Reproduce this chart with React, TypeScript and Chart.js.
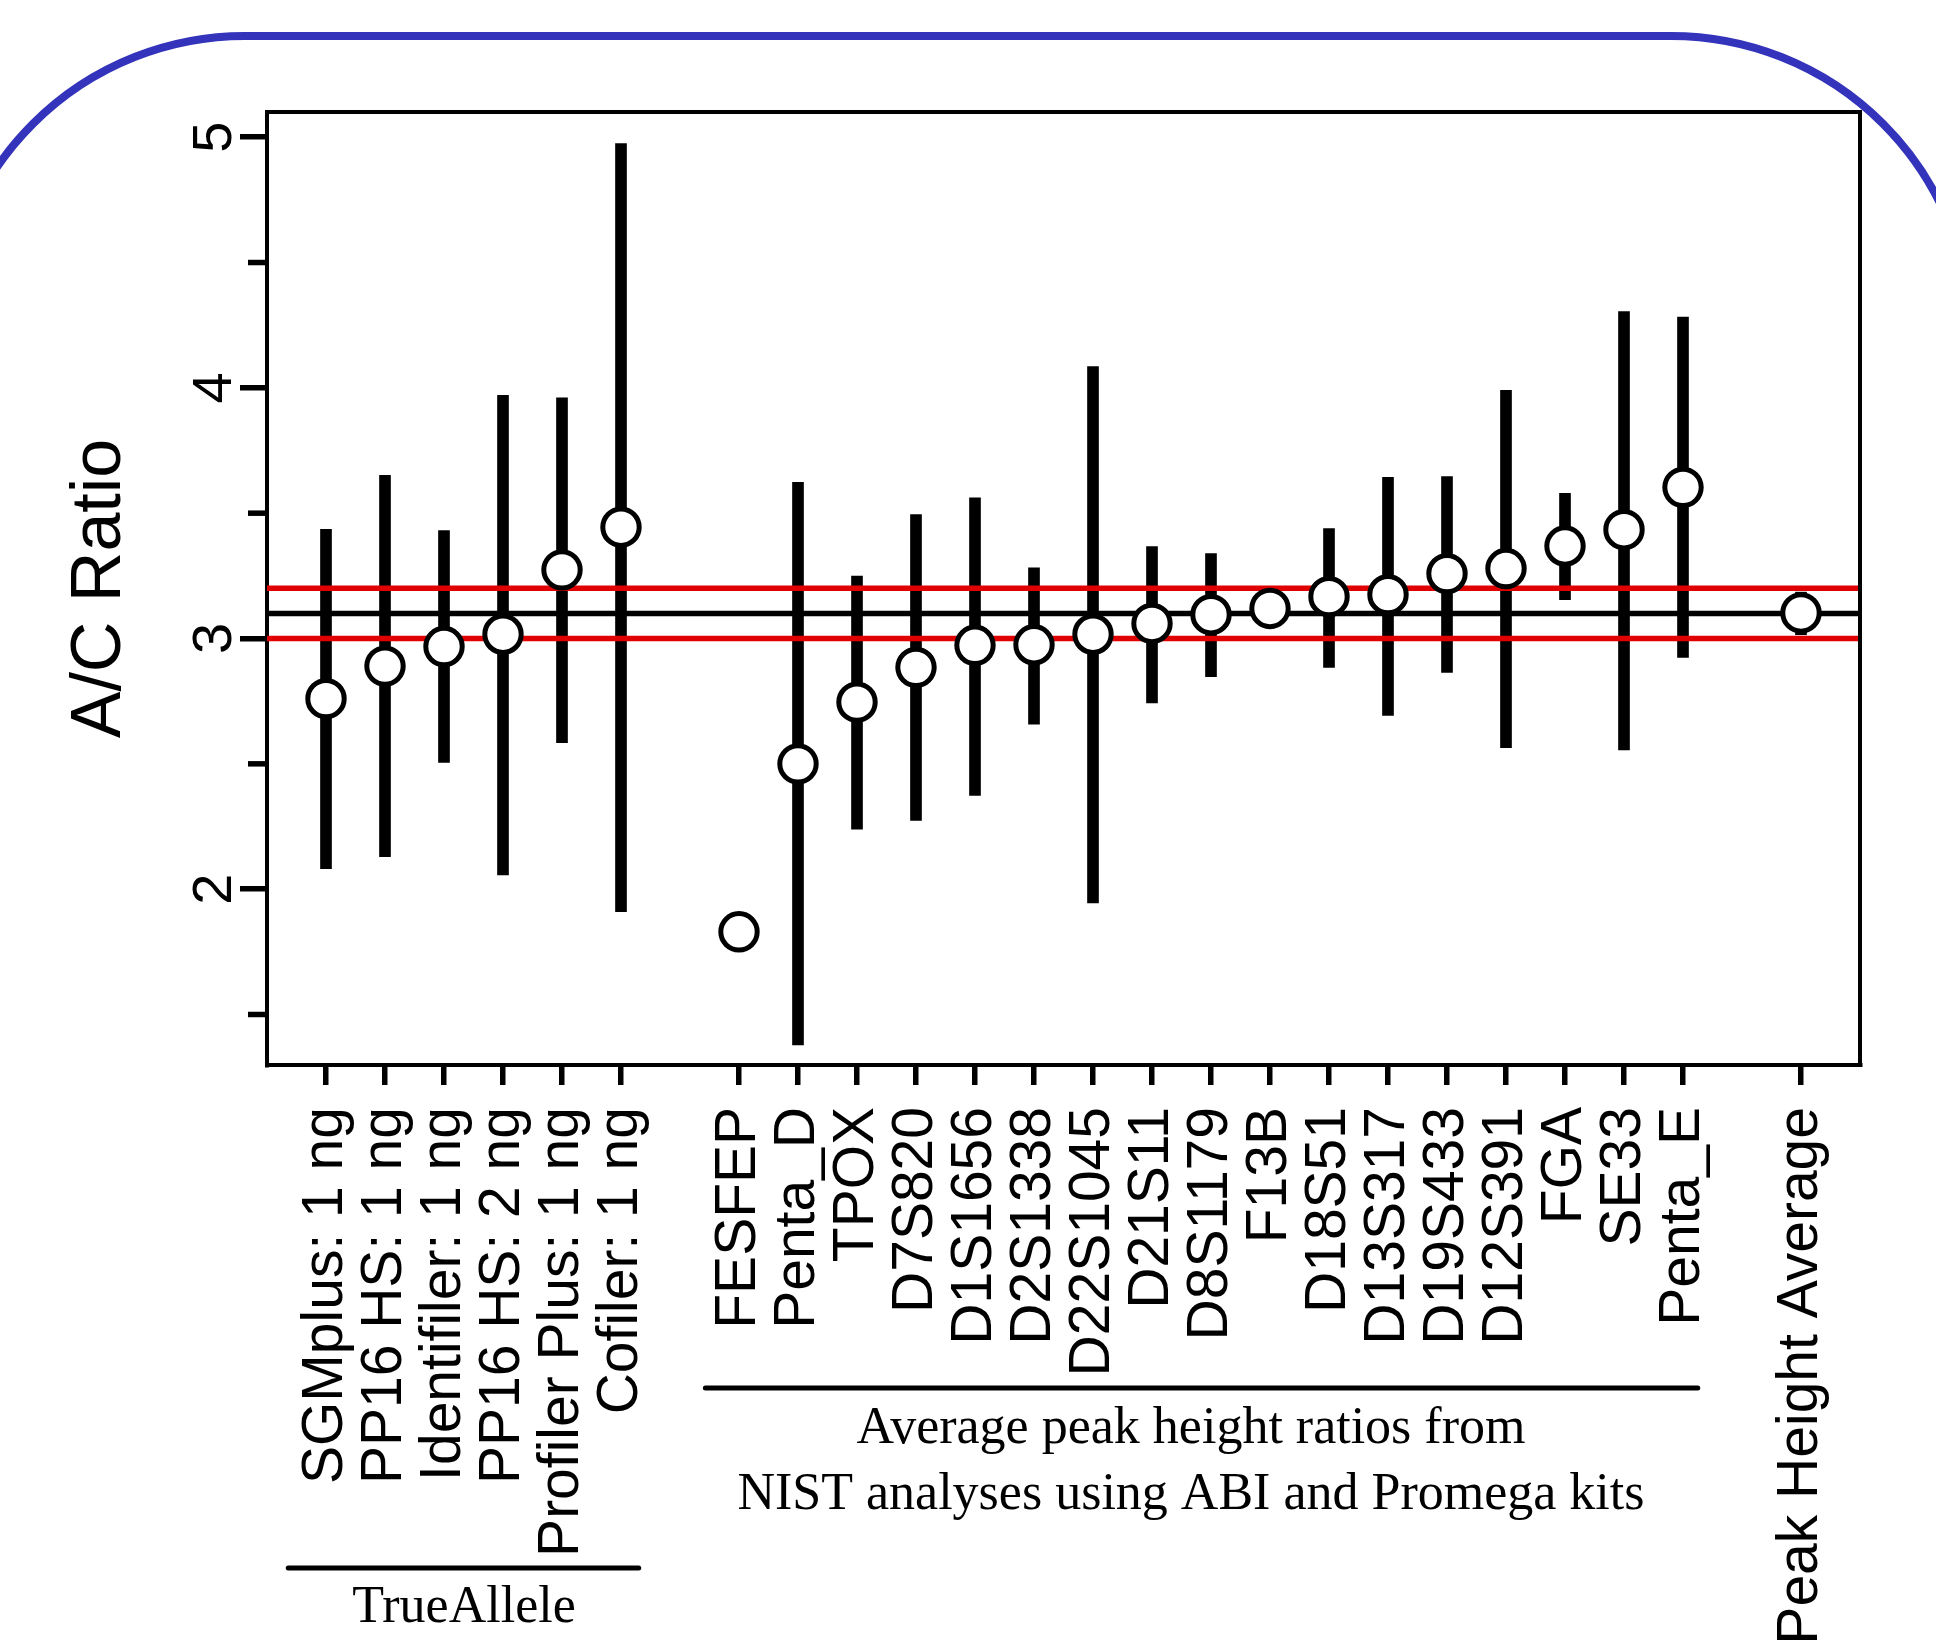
import { useEffect, useRef } from 'react';
import { Chart, registerables } from 'chart.js';

Chart.register(...registerables);

// ---- data ----
const trueAlleleKits = ['SGMplus: 1 ng', 'PP16 HS: 1 ng', 'Identifiler: 1 ng', 'PP16 HS: 2 ng', 'Profiler Plus: 1 ng', 'Cofiler: 1 ng'];
const nistLoci = ['FESFEP', 'Penta_D', 'TPOX', 'D7S820', 'D1S1656', 'D2S1338', 'D22S1045', 'D21S11', 'D8S1179', 'F13B', 'D18S51', 'D13S317', 'D19S433', 'D12S391', 'FGA', 'SE33', 'Penta_E'];
const averageLabels = ['Peak Height Average'];
const categories = [...trueAlleleKits, ...nistLoci, ...averageLabels];
const xPositions = [1, 2, 3, 4, 5, 6, 8, 9, 10, 11, 12, 13, 14, 15, 16, 17, 18, 19, 20, 21, 22, 23, 24, 26];

const ratioMean = [2.76, 2.89, 2.968, 3.017, 3.274, 3.444, 1.83, 2.5, 2.746, 2.885, 2.973, 2.975, 3.017, 3.06, 3.095, 3.12, 3.167, 3.175, 3.259, 3.279, 3.369, 3.434, 3.603, 3.102];
const ratioLow: (number | null)[] = [2.082, 2.13, 2.506, 2.057, 2.584, 1.91, null, 1.379, 2.239, 2.274, 2.374, 2.658, 1.945, 2.743, 2.848, null, 2.885, 2.693, 2.865, 2.564, 3.155, 2.556, 2.925, 3.015];
const ratioHigh: (number | null)[] = [3.436, 3.651, 3.431, 3.97, 3.96, 4.975, null, 3.623, 3.249, 3.494, 3.561, 3.282, 4.085, 3.367, 3.339, null, 3.439, 3.643, 3.646, 3.99, 3.579, 4.304, 4.282, 3.185];

const referenceValues = [3.0, 3.1, 3.2];
const referenceColors = ['#e00000', '#000000', '#e00000'];

const yTickValues = [2, 3, 4, 5];
const yMinorTickValues = [1.5, 2.5, 3.5, 4.5];
const X_MIN = 0;
const X_MAX = 27;
const Y_MIN = 1.2985;
const Y_MAX = 5.1005;

// group annotations (in x-scale units)
const groupTexts = [['TrueAllele'], ['Average peak height ratios from', 'NIST analyses using ABI and Promega kits']];
const groupLineStart = [0.36, 7.43];
const groupLineEnd = [6.3, 24.25];
const groupTextCenter = [3.34, 15.66];

const SANS = 'Liberation Sans, Arial, Helvetica, sans-serif';
const SERIF = 'Liberation Serif, Times New Roman, serif';

const decorPlugin = {
  id: 'decor',
  beforeDraw(chart: any) {
    const ctx = chart.ctx;
    ctx.save();
    ctx.fillStyle = '#ffffff';
    ctx.fillRect(0, 0, chart.width, chart.height);
    ctx.restore();
  },
  afterDraw(chart: any) {
    const { ctx, chartArea: ca, scales } = chart;
    const xs = scales.x;
    const ys = scales.y;
    ctx.save();
    // top and right frame
    ctx.strokeStyle = '#000';
    ctx.lineWidth = 4;
    ctx.lineCap = 'square';
    ctx.beginPath();
    ctx.moveTo(ca.left, ca.top);
    ctx.lineTo(ca.right, ca.top);
    ctx.lineTo(ca.right, ca.bottom);
    ctx.stroke();
    // minor ticks
    ctx.lineCap = 'butt';
    ctx.lineWidth = 5.5;
    for (const v of yMinorTickValues) {
      const py = ys.getPixelForValue(v);
      ctx.beginPath();
      ctx.moveTo(ca.left - 19, py);
      ctx.lineTo(ca.left - 2, py);
      ctx.stroke();
    }
    // group annotations
    const lineYs = [ca.bottom + 503, ca.bottom + 323];
    const textBaselines = [[ca.bottom + 557], [ca.bottom + 378, ca.bottom + 444]];
    ctx.fillStyle = '#000';
    ctx.textAlign = 'center';
    ctx.textBaseline = 'alphabetic';
    ctx.font = `52px ${SERIF}`;
    ctx.lineWidth = 5;
    ctx.lineCap = 'round';
    for (let g = 0; g < groupTexts.length; g++) {
      ctx.beginPath();
      ctx.moveTo(xs.getPixelForValue(groupLineStart[g]), lineYs[g]);
      ctx.lineTo(xs.getPixelForValue(groupLineEnd[g]), lineYs[g]);
      ctx.stroke();
      const cx = xs.getPixelForValue(groupTextCenter[g]);
      groupTexts[g].forEach((t, i) => ctx.fillText(t, cx, textBaselines[g][i]));
    }
    // blue rounded frame
    const L = -55, T = 36, R = 1971, B = 2200, r = 300;
    ctx.strokeStyle = '#3333bb';
    ctx.lineWidth = 8;
    ctx.beginPath();
    ctx.moveTo(L + r, T);
    ctx.lineTo(R - r, T);
    ctx.arcTo(R, T, R, T + r, r);
    ctx.lineTo(R, B - r);
    ctx.arcTo(R, B, R - r, B, r);
    ctx.lineTo(L + r, B);
    ctx.arcTo(L, B, L, B - r, r);
    ctx.lineTo(L, T + r);
    ctx.arcTo(L, T, L + r, T, r);
    ctx.closePath();
    ctx.stroke();
    ctx.restore();
  },
};

export default function App() {
  const canvasRef = useRef<HTMLCanvasElement | null>(null);

  useEffect(() => {
    document.body.style.margin = '0';
    document.body.style.overflow = 'hidden';
    const canvas = canvasRef.current;
    if (!canvas) return;

    const points = xPositions.map((x, i) => ({ x, y: ratioMean[i] }));
    const bars: any[] = [];
    xPositions.forEach((x, i) => {
      const lo = ratioLow[i];
      const hi = ratioHigh[i];
      if (lo != null && hi != null) bars.push({ x, y: [lo, hi] });
    });

    const lineSets = referenceValues.map((v, i) => ({
      type: 'line' as const,
      data: [{ x: X_MIN, y: v }, { x: X_MAX, y: v }],
      borderColor: referenceColors[i],
      borderWidth: 5.5,
      borderCapStyle: 'butt' as const,
      pointRadius: 0,
      pointHoverRadius: 0,
      fill: false,
      order: 1,
    }));

    const chart = new Chart(canvas, {
      type: 'scatter',
      data: {
        datasets: [
          {
            type: 'scatter',
            data: points,
            pointRadius: 18.2,
            pointHoverRadius: 18.2,
            pointBorderWidth: 5,
            pointHoverBorderWidth: 5,
            pointBackgroundColor: '#ffffff',
            pointBorderColor: '#000000',
            order: 0,
          } as any,
          ...lineSets,
          {
            type: 'bar',
            data: bars,
            backgroundColor: '#000000',
            borderWidth: 0,
            barThickness: 11,
            order: 3,
          } as any,
        ],
      },
      options: {
        responsive: false,
        animation: false,
        devicePixelRatio: 1,
        events: [],
        layout: { padding: { left: 0, top: 112, right: 76, bottom: 0 } },
        plugins: { legend: { display: false }, tooltip: { enabled: false } },
        scales: {
          x: {
            type: 'linear',
            min: X_MIN,
            max: X_MAX,
            offset: false,
            afterBuildTicks: (s: any) => {
              s.ticks = xPositions.map((v) => ({ value: v }));
            },
            afterFit: (s: any) => {
              s.height = 584;
            },
            ticks: {
              autoSkip: false,
              minRotation: 90,
              maxRotation: 90,
              padding: 22,
              color: '#000',
              font: { family: SANS, size: 57 },
              callback: (v: any) => {
                const idx = xPositions.indexOf(Number(v));
                return idx >= 0 ? categories[idx] : '';
              },
            },
            grid: {
              offset: false,
              drawOnChartArea: false,
              drawTicks: true,
              tickLength: 20,
              tickWidth: 5.5,
              tickColor: '#000',
              lineWidth: 5.5,
              color: '#000',
            },
            border: { display: true, width: 4, color: '#000' },
          },
          y: {
            type: 'linear',
            min: Y_MIN,
            max: Y_MAX,
            afterBuildTicks: (s: any) => {
              s.ticks = yTickValues.map((v) => ({ value: v }));
            },
            afterFit: (s: any) => {
              s.width = 267;
            },
            title: {
              display: true,
              text: 'A/C Ratio',
              color: '#000',
              font: { family: SANS, size: 70 },
              padding: { top: 59, bottom: 0 },
            },
            ticks: {
              minRotation: 90,
              maxRotation: 90,
              crossAlign: 'center',
              padding: 9,
              color: '#000',
              font: { family: SANS, size: 56 },
              callback: (v: any) => String(v),
            },
            grid: {
              drawOnChartArea: false,
              drawTicks: true,
              tickLength: 27,
              tickWidth: 5.5,
              tickColor: '#000',
              lineWidth: 5.5,
              color: '#000',
            },
            border: { display: true, width: 4, color: '#000' },
          },
        },
      } as any,
      plugins: [decorPlugin],
    });

    return () => {
      chart.destroy();
    };
  }, []);

  return (
    <div style={{ width: 1936, height: 1649, position: 'relative' }}>
      <canvas ref={canvasRef} width={1936} height={1649} style={{ display: 'block', width: 1936, height: 1649 }} />
    </div>
  );
}
